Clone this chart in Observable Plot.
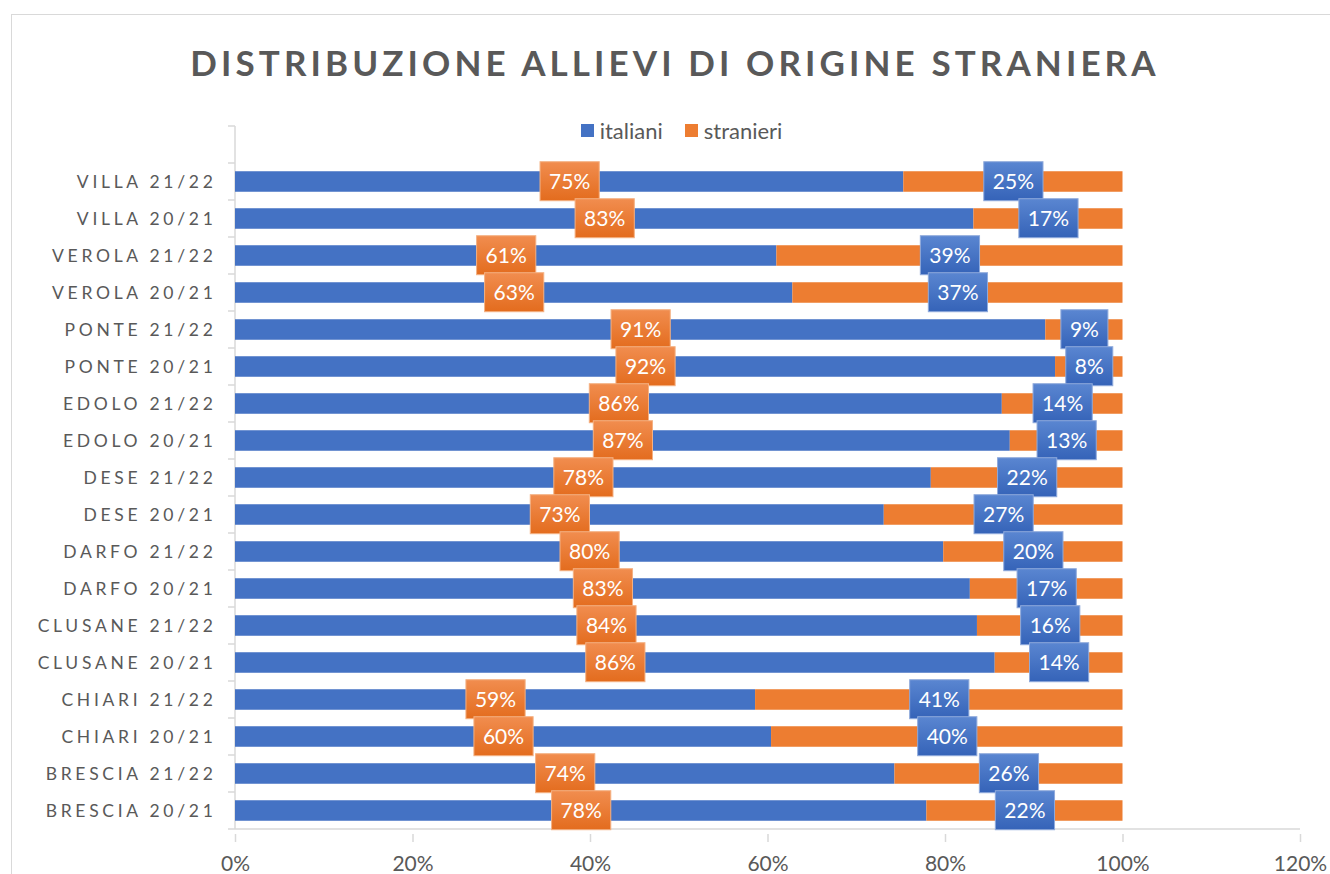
<!DOCTYPE html>
<html>
<head>
<meta charset="utf-8">
<script src="https://cdn.jsdelivr.net/npm/d3@7"></script>
<script src="https://cdn.jsdelivr.net/npm/@observablehq/plot@0.6"></script>
<style>
  body { margin: 0; background: #fff; font-family: Lato, "Open Sans", sans-serif; }
  #wrap { position: relative; width: 1330px; height: 874px; overflow: hidden; background: #fff; }
  #frame { position: absolute; left: 11px; top: 14px; width: 1400px; height: 950px; border: 1.5px solid #d9d9d9; box-sizing: border-box; }
  #title { position: absolute; left: 0; top: 40px; width: 1330px; padding-left: 20px; box-sizing: border-box; text-align: center; font-weight: bold; font-size: 35px; letter-spacing: 4.1px; color: #595959; line-height: 44px; }
  #legend { position: absolute; left: 0; top: 117px; width: 1330px; padding-left: 33px; box-sizing: border-box; display: flex; justify-content: center; align-items: center; font-size: 22px; color: #595959; }
  #legend .item { display: flex; align-items: center; margin: 0 11px; }
  #legend .sw { width: 13px; height: 13px; margin-right: 6px; }
  #chart { position: absolute; left: 0; top: 0; }
  #chart svg [aria-label="x-axis tick"] { stroke: #d9d9d9; stroke-width: 1.5; }
  #chart svg [aria-label="y-axis tick label"] text { letter-spacing: 3.7px; }
</style>
</head>
<body>
<div id="wrap">
  <div id="frame"></div>
  <div id="title">DISTRIBUZIONE ALLIEVI DI ORIGINE STRANIERA</div>
  <div id="legend"></div>
  <div id="chart"></div>
</div>
<script>
const categories = ["VILLA 21/22", "VILLA 20/21", "VEROLA 21/22", "VEROLA 20/21", "PONTE 21/22", "PONTE 20/21",
  "EDOLO 21/22", "EDOLO 20/21", "DESE 21/22", "DESE 20/21", "DARFO 21/22", "DARFO 20/21",
  "CLUSANE 21/22", "CLUSANE 20/21", "CHIARI 21/22", "CHIARI 20/21", "BRESCIA 21/22", "BRESCIA 20/21"];
const italiani  = [75.3, 83.2, 61.0, 62.8, 91.3, 92.4, 86.4, 87.3, 78.4, 73.1, 79.8, 82.8, 83.6, 85.6, 58.6, 60.4, 74.3, 77.9];
const stranieri = [24.7, 16.8, 39.0, 37.2, 8.7, 7.6, 13.6, 12.7, 21.6, 26.9, 20.2, 17.2, 16.4, 14.4, 41.4, 39.6, 25.7, 22.1];
const series = ["italiani", "stranieri"];
const seriesColors = ["#4472C4", "#ED7D31"];
const xTicks = [0, 0.2, 0.4, 0.6, 0.8, 1.0, 1.2];

// legend
const legend = document.getElementById("legend");
series.forEach((s, i) => {
  const it = document.createElement("div");
  it.className = "item";
  it.innerHTML = `<span class="sw" style="background:${seriesColors[i]}"></span><span>${s}</span>`;
  legend.appendChild(it);
});

const rows = categories.flatMap((c, i) => [
  {cat: c, serie: "italiani", v: italiani[i] / 100},
  {cat: c, serie: "stranieri", v: stranieri[i] / 100}
]);
const itLabels = categories.map((c, i) => ({cat: c, x: italiani[i] / 200, t: Math.round(italiani[i]) + "%"}));
const stLabels = categories.map((c, i) => ({cat: c, x: (italiani[i] + stranieri[i] / 2) / 100, t: Math.round(stranieri[i]) + "%"}));
const yDomain = [" ", ...categories];

// distinct near-white fills identify the two label marks
const FILL_IT = "#fffffe", FILL_ST = "#fefeff";

const chart = Plot.plot({
  width: 1330,
  height: 874,
  marginLeft: 235,
  marginRight: 30,
  marginTop: 121.5,
  marginBottom: 40,
  style: {fontFamily: "Lato, 'Open Sans', sans-serif", background: "transparent", overflow: "visible"},
  x: {domain: [0, 1.2], axis: null},
  y: {domain: yDomain, padding: 0, axis: null},
  color: {domain: series, range: seriesColors},
  marks: [
    Plot.barX(rows, Plot.stackX({x: "v", y: "cat", fill: "serie", insetTop: 8.25, insetBottom: 8.25})),
    Plot.axisY({tickSize: 0, tickPadding: 19, fontSize: 17.5, color: "#595959", label: null, tickFormat: d => d}),
    Plot.axisX({ticks: xTicks, tickSize: 8, tickPadding: 14, fontSize: 21, color: "#595959", label: null,
      tickFormat: d => Math.round(d * 100) + "%"}),
    Plot.text(itLabels, {x: "x", y: "cat", text: "t", fill: FILL_IT, fontSize: 21}),
    Plot.text(stLabels, {x: "x", y: "cat", text: "t", fill: FILL_ST, fontSize: 21})
  ]
});
document.getElementById("chart").appendChild(chart);

// post-process: axis lines and label boxes, using Plot's own scales
const svg = d3.select(chart);
const xs = chart.scale("x"), ys = chart.scale("y");
const x0 = xs.apply(0), xMax = xs.apply(1.2);
const yTop = ys.apply(yDomain[0]);
const yBot = ys.apply(yDomain[yDomain.length - 1]) + ys.bandwidth;
const axisG = svg.insert("g", "g").attr("stroke", "#d9d9d9").attr("stroke-width", 1.5);
axisG.append("line").attr("x1", x0).attr("x2", x0).attr("y1", yTop).attr("y2", yBot);
axisG.append("line").attr("x1", x0).attr("x2", xMax).attr("y1", yBot).attr("y2", yBot);
yDomain.forEach(d => {
  const yy = ys.apply(d);
  axisG.append("line").attr("x1", x0 - 7).attr("x2", x0).attr("y1", yy).attr("y2", yy);
});
axisG.append("line").attr("x1", x0 - 7).attr("x2", x0).attr("y1", yBot).attr("y2", yBot);

const defs = svg.append("defs");
function grad(id, top, bottom) {
  const g = defs.append("linearGradient").attr("id", id).attr("x1", 0).attr("y1", 0).attr("x2", 0).attr("y2", 1);
  g.append("stop").attr("offset", "0%").attr("stop-color", top);
  g.append("stop").attr("offset", "100%").attr("stop-color", bottom);
}
grad("gOrange", "#F18D4F", "#E36C1E");
grad("gBlue", "#5A86D1", "#3563B8");

function boxify(fillKey, fillId, strokeColor) {
  const nodes = Array.from(chart.querySelectorAll("text")).filter(t => {
    let el = t;
    while (el && el !== chart) {
      const f = el.getAttribute && el.getAttribute("fill");
      if (f) return f.toLowerCase() === fillKey;
      el = el.parentNode;
    }
    return false;
  });
  nodes.forEach(node => {
    const b = node.getBBox();
    const w = b.width + 18, h = 39;
    const cx = b.x + b.width / 2, cy = b.y + b.height / 2 + 1;
    const rect = document.createElementNS("http://www.w3.org/2000/svg", "rect");
    rect.setAttribute("x", cx - w / 2);
    rect.setAttribute("y", cy - h / 2);
    rect.setAttribute("width", w);
    rect.setAttribute("height", h);
    const tr = node.getAttribute("transform");
    if (tr) rect.setAttribute("transform", tr);
    rect.setAttribute("fill", `url(#${fillId})`);
    rect.setAttribute("stroke", strokeColor);
    rect.setAttribute("stroke-width", 1);
    node.parentNode.insertBefore(rect, node);
    node.setAttribute("fill", "#ffffff");
  });
}
boxify(FILL_IT, "gOrange", "#F4B183");
boxify(FILL_ST, "gBlue", "#8FAADC");
</script>
</body>
</html>
